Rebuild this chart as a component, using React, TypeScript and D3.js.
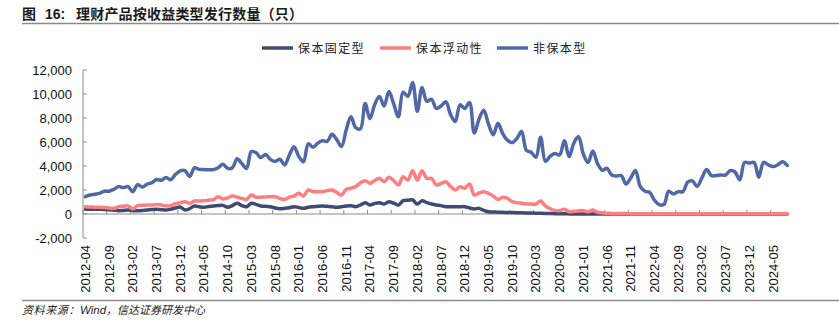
import React from 'react';
import * as d3 from 'd3';

const startMonth = new Date(2012, 3, 1);
const endMonth = new Date(2024, 8, 1);
const months: string[] = d3.timeMonth.range(startMonth, endMonth).map(d3.timeFormat('%Y-%m'));

const xTickLabels = ['2012-04','2012-09','2013-02','2013-07','2013-12','2014-05','2014-10','2015-03','2015-08','2016-01','2016-06','2016-11','2017-04','2017-09','2018-02','2018-07','2018-12','2019-05','2019-10','2020-03','2020-08','2021-01','2021-06','2021-11','2022-04','2022-09','2023-02','2023-07','2023-12','2024-05'];
const yTicks = [-2000, 0, 2000, 4000, 6000, 8000, 10000, 12000];

const seriesNames = ['保本固定型', '保本浮动性', '非保本型'];
const seriesColors = ['#3F4B72', '#FF7E80', '#5068A6'];

const fixedVals = [390,390,400,390,380,360,320,280,300,330,280,280,300,330,370,390,360,330,400,500,580,330,450,670,600,560,620,670,700,720,560,700,890,700,610,890,800,670,640,610,500,440,470,520,610,540,470,560,610,650,670,640,610,560,610,670,690,610,750,940,750,880,940,830,1030,900,750,1110,1150,1170,830,1110,950,830,750,700,610,610,610,610,610,500,420,470,300,190,170,150,140,130,120,110,100,90,80,70,60,50,40,30,20,15,10,10,10,10,10,10,10,10,10,10,10,10,10,10,10,10,10,10,10,10,10,10,10,10,10,10,10,10,10,10,10,10,10,10,10,10,10,10,10,10,10,10,10,10,10,10,10];
const floatVals = [600,580,570,560,540,500,470,600,650,680,430,700,720,740,750,800,750,680,700,850,940,1030,890,1080,1090,1100,1170,1200,1440,1250,1350,1500,1400,1300,1220,1580,1400,1400,1420,1440,1440,1300,1220,1400,1500,1720,1500,2000,1860,1850,1860,1950,2000,1800,1580,2060,2150,2280,2600,2780,2560,2780,2970,2700,3060,2800,2420,3110,2830,3610,2830,3610,2970,2970,2420,2550,2690,2300,2000,2280,2140,2500,1580,1750,1860,1720,1500,1220,1390,1300,1030,950,890,830,830,830,1080,670,440,300,280,390,190,220,260,280,190,330,150,100,60,50,40,40,40,30,30,30,30,30,30,30,30,30,30,30,30,30,30,30,30,30,30,30,30,30,30,30,30,30,30,30,30,30,30,30,30,30,30,30,30,30,30,30,30];
const nonGuarVals = [1450,1580,1650,1720,1900,1900,2050,2280,2200,2280,1860,2450,2250,2480,2600,2880,2800,3050,2850,3300,3600,3620,3120,3850,3720,3700,3680,3700,3850,4150,3800,3850,4600,4200,3800,5200,5100,4700,4950,4550,4380,4560,4100,4900,5600,4800,4360,5850,5560,5900,6100,6050,6650,6200,5620,7000,8100,7200,7100,9200,7950,9100,9800,9000,10200,9200,8100,10150,9800,10950,8550,10550,9400,9560,8800,9000,9350,8300,7700,9100,8800,9300,6750,7900,8650,7500,6600,7560,6700,6150,5950,6300,6880,5300,5150,4720,6400,4380,4800,5050,4920,6100,4780,5900,6450,5000,4300,5250,4200,3650,3800,3250,3170,3200,2500,3000,3620,2300,1900,1800,1150,780,800,1900,1670,1860,1860,2650,2750,2300,3000,3700,3200,3200,3250,3250,3620,3500,2850,4300,4250,4300,3060,4300,4100,3950,4100,4350,4050];

const allSeries = [fixedVals, floatVals, nonGuarVals];

export default function App() {
  const W = 839, H = 324;
  const x0 = 83, x1 = 789.6;
  const x = d3.scaleBand<string>().domain(months).range([x0, x1]).padding(0);
  const y = d3.scaleLinear().domain([-2000, 12000]).range([238, 70]);
  const bw = x.bandwidth();
  const line = d3.line<number>()
    .x((_, i) => (x(months[i]) as number) + bw / 2)
    .y((d) => y(d))
    .curve(d3.curveCatmullRom.alpha(0.5));

  const axisColor = '#8c8c8c';
  const tickIdx = d3.range(0, months.length, 5);
  const legendX = [262, 380, 497];
  const cjk = "'Noto Sans CJK SC', sans-serif";
  const latin = "'Liberation Sans', Arial, sans-serif";

  return (
    <svg width={W} height={H} style={{ position: 'absolute', left: 0, top: 0, background: '#fff' }}>
      <text y={19} fontFamily={cjk} fontWeight="bold" fontSize={14} fill="#1a1a1a">
        <tspan x={22}>图</tspan>
        <tspan x={45} fontFamily={latin}>16:</tspan>
        <tspan x={76} letterSpacing={0.2}>理财产品按收益类型发行数量（只）</tspan>
      </text>
      <line x1={22} x2={839} y1={23.5} y2={23.5} stroke="#8a8a8a" strokeWidth={1.5} />

      {/* legend */}
      {seriesNames.map((n, i) => (
        <g key={n}>
          <line x1={legendX[i]} x2={legendX[i] + 31} y1={48} y2={48} stroke={seriesColors[i]} strokeWidth={3.5} />
          <text x={legendX[i] + 36} y={52.5} fontFamily={cjk} fontSize={12} fill="#222" letterSpacing={1.4}>{n}</text>
        </g>
      ))}

      {/* y axis */}
      <line x1={x0} x2={x0} y1={y(12000)} y2={y(-2000)} stroke={axisColor} strokeWidth={1} />
      {yTicks.map((t) => (
        <g key={t}>
          <line x1={x0} x2={x0 + 4} y1={y(t)} y2={y(t)} stroke={axisColor} strokeWidth={1} />
          <text x={72} y={y(t) + 4.5} textAnchor="end" fontFamily={latin} fontSize={13} fill="#111">
            {d3.format(',')(t).replace('−', '-')}
          </text>
        </g>
      ))}

      {/* x axis at zero */}
      <line x1={x0} x2={x1} y1={y(0)} y2={y(0)} stroke={axisColor} strokeWidth={1} />
      {tickIdx.map((i) => (
        <line key={i} x1={x0 + i * bw} x2={x0 + i * bw} y1={y(0) - 4} y2={y(0)} stroke={axisColor} strokeWidth={1} />
      ))}
      {xTickLabels.map((lab) => {
        const cx = (x(lab) as number) + bw / 2;
        return (
          <text key={lab} transform={`translate(${cx + 4.5},245) rotate(-90)`} textAnchor="end" fontFamily={latin} fontSize={13} fill="#111">
            {lab}
          </text>
        );
      })}

      {/* series */}
      {allSeries.map((s, i) => (
        <path key={i} d={line(s) || ''} fill="none" stroke={seriesColors[i]} strokeWidth={3.5} strokeLinejoin="round" strokeLinecap="round" />
      ))}

      <line x1={22} x2={839} y1={300.5} y2={300.5} stroke="#8a8a8a" strokeWidth={1.5} />
      <text x={22} y={314} fontStyle="italic" fill="#222" fontSize={11}>
        <tspan fontFamily={cjk} letterSpacing={0.6}>资料来源：</tspan>
        <tspan fontFamily={latin} fontSize={11.5}>Wind</tspan>
        <tspan fontFamily={cjk}>，信达证券研发中心</tspan>
      </text>
    </svg>
  );
}
